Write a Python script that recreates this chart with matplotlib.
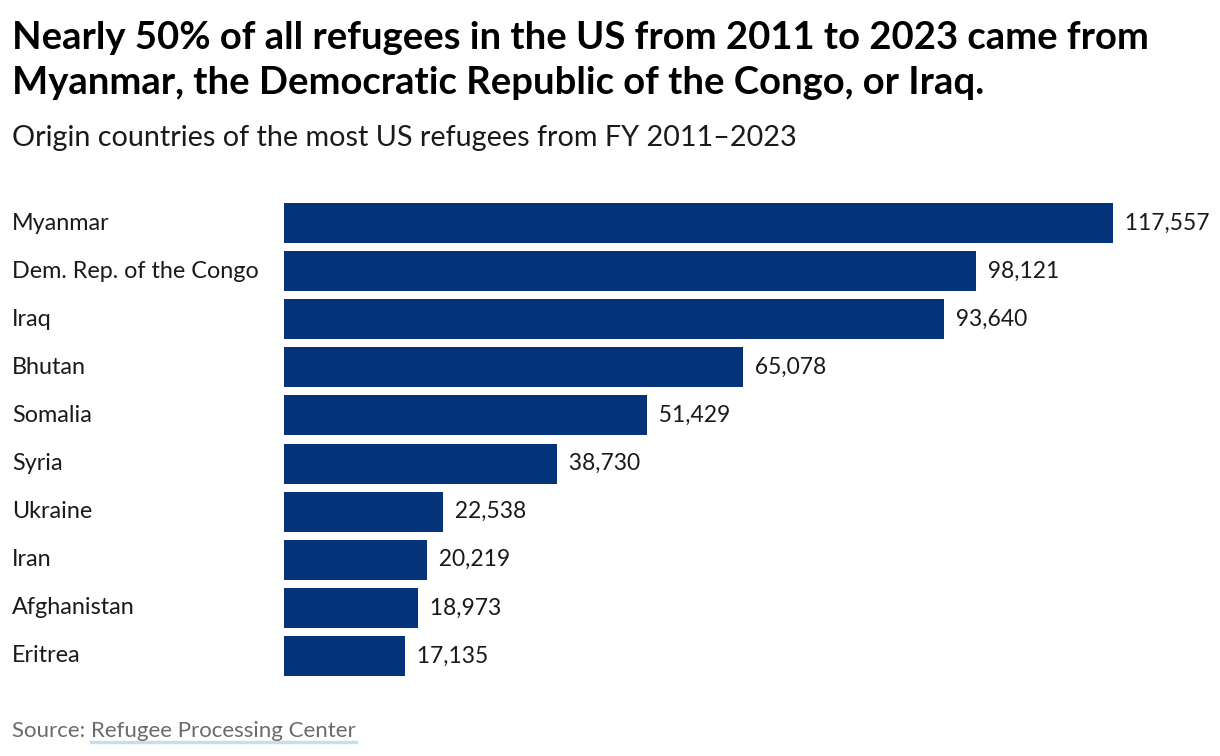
import matplotlib
matplotlib.use("Agg")
import matplotlib.pyplot as plt
from matplotlib.transforms import blended_transform_factory

countries = ["Myanmar", "Dem. Rep. of the Congo", "Iraq", "Bhutan", "Somalia",
             "Syria", "Ukraine", "Iran", "Afghanistan", "Eritrea"]
refugees = [117557, 98121, 93640, 65078, 51429, 38730, 22538, 20219, 18973, 17135]

BAR = "#04337a"
INK = "#1a1a1a"
MUTED = "#6b6b6b"

plt.rcParams["font.family"] = ["Lato", "DejaVu Sans"]

fig = plt.figure(figsize=(12.2, 7.56), dpi=100)
ax = fig.add_axes([284 / 1220, 1 - 680 / 756, (1113 - 284) / 1220, 481 / 756])

ypos = range(len(countries))
ax.barh(ypos, refugees, height=0.83, color=BAR, edgecolor="none")
ax.set_xlim(0, max(refugees))
ax.set_ylim(len(countries) - 0.5, -0.5)
ax.axis("off")

label_tf = blended_transform_factory(fig.transFigure, ax.transData)
for i, (c, v) in enumerate(zip(countries, refugees)):
    ax.text(v, i, f"  {v:,}", va="center", ha="left", fontsize=16.5, color=INK)
    fig.text(12 / 1220, i, c, fontsize=16.8, color=INK, va="center",
             transform=label_tf)

fig.text(12 / 1220, 1 - 21 / 756,
         "Nearly 50% of all refugees in the US from 2011 to 2023 came from\n"
         "Myanmar, the Democratic Republic of the Congo, or Iraq.",
         fontsize=27.5, fontweight="bold", color="black", va="top", ha="left",
         linespacing=1.38)
fig.text(12 / 1220, 1 - 138 / 756,
         "Origin countries of the most US refugees from FY 2011\u20132023",
         fontsize=20.7, color=INK, va="center", ha="left")

src = fig.text(12 / 1220, 1 - 731 / 756, "Source: ", fontsize=16, color=MUTED,
               va="center", ha="left")
fig.canvas.draw()
bb = src.get_window_extent()
link = fig.text(bb.x1 / 1220, 1 - 731 / 756, "Refugee Processing Center",
                fontsize=16, color=MUTED, va="center", ha="left")
fig.canvas.draw()
lb = link.get_window_extent()
fig.add_artist(plt.Line2D([lb.x0 / 1220, lb.x1 / 1220],
                          [(lb.y0 - 1) / 756, (lb.y0 - 1) / 756],
                          color="#c4e0ee", lw=2.5))

fig.savefig("out.png", dpi=100, facecolor="white")
